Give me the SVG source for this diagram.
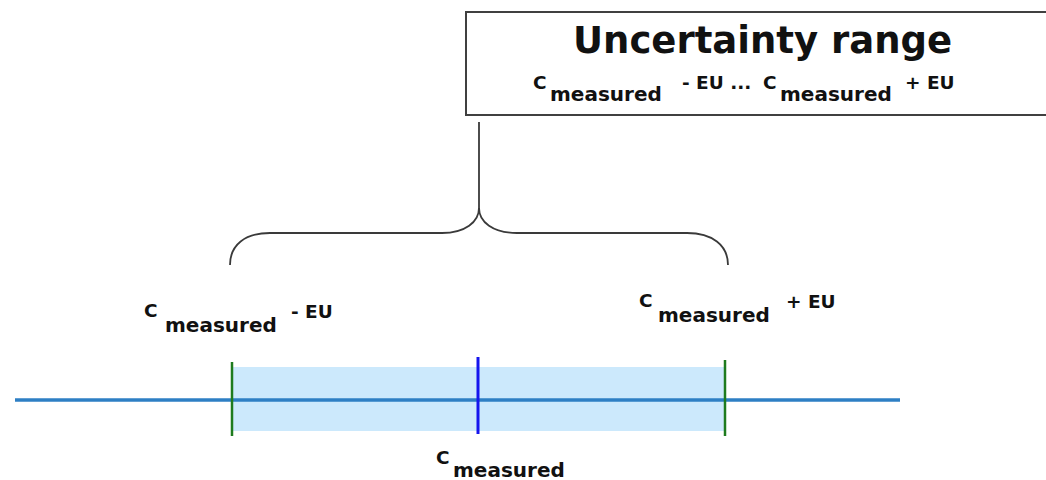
<svg xmlns="http://www.w3.org/2000/svg" width="1046" height="480" viewBox="0 0 1046 480">
  <style>
    .t { font-family: "DejaVu Sans", Verdana, sans-serif; font-weight: bold; fill: #111; }
    .c { font-size: 18.5px; }
    .sub { font-size: 20px; }
    .title { font-size: 37px; }
    .brace { fill: none; stroke: #3a3a3a; stroke-width: 1.8; }
  </style>
  <rect width="1046" height="480" fill="#ffffff"/>

  <g id="range-box">
    <rect x="466" y="12" width="620" height="103" fill="#ffffff" stroke="#404040" stroke-width="2"/>
    <text class="t title" x="573" y="53">Uncertainty range</text>
    <text class="t c" x="533" y="89">C</text>
    <text class="t sub" x="550" y="101">measured</text>
    <text class="t c" x="682" y="89">- EU ...</text>
    <text class="t c" x="763" y="89">C</text>
    <text class="t sub" x="780" y="101">measured</text>
    <text class="t c" x="905" y="89">+ EU</text>
  </g>

  <g id="connectors">
    <path class="brace" d="M230,265 C230,245 245,233 270,233 L442,233 C465,233 479,222 479,208 L479,122"/>
    <path class="brace" d="M479,208 C479,222 493,233 517,233 L687,233 C712,233 728,245 728,265"/>
  </g>

  <g id="range-band">
    <rect x="232" y="367" width="493" height="64" fill="#cce9fc"/>
  </g>

  <g id="axis">
    <line x1="15" y1="400" x2="900" y2="400" stroke="#2e7fc4" stroke-width="3.5"/>
  </g>

  <g id="lower-bound">
    <line x1="232" y1="362" x2="232" y2="436" stroke="#1e7b1e" stroke-width="2.5"/>
    <text class="t c" x="144" y="317">C</text>
    <text class="t sub" x="165" y="332">measured</text>
    <text class="t c" x="291" y="318">- EU</text>
  </g>

  <g id="upper-bound">
    <line x1="725" y1="360" x2="725" y2="436" stroke="#1e7b1e" stroke-width="2.5"/>
    <text class="t c" x="639" y="307">C</text>
    <text class="t sub" x="658" y="322">measured</text>
    <text class="t c" x="786" y="308">+ EU</text>
  </g>

  <g id="measured">
    <line x1="478" y1="357" x2="478" y2="434" stroke="#1515ee" stroke-width="3"/>
    <text class="t c" x="436" y="464">C</text>
    <text class="t sub" x="453" y="477">measured</text>
  </g>
</svg>
